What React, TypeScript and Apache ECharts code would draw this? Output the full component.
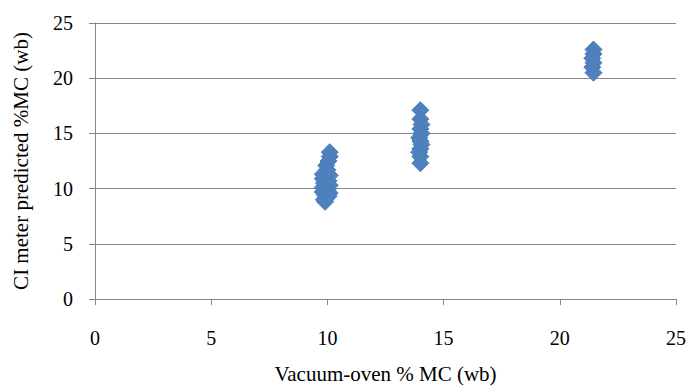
import React, { useEffect, useRef } from "react";
import * as echarts from "echarts";

const xTicks = [0, 5, 10, 15, 20, 25];
const yTicks = [0, 5, 10, 15, 20, 25];

const ovenMC10: number[] = [10.1, 10.1, 10.05, 9.95, 10.0, 9.8, 10.1, 9.8, 10.05, 9.85, 10.1, 9.8, 10.0, 9.8, 10.1, 9.9, 10.05, 9.85, 9.9];
const meterMC10: number[] = [13.3, 12.9, 12.5, 12.1, 11.7, 11.3, 11.2, 10.9, 10.7, 10.5, 10.3, 10.1, 9.9, 9.7, 9.6, 9.4, 9.3, 9.0, 8.8];

const ovenMC14: number[] = [14.0, 14.0, 14.05, 14.0, 14.05, 13.95, 14.0, 14.05, 14.0, 13.95, 14.0, 14.0];
const meterMC14: number[] = [17.1, 16.3, 15.8, 15.4, 15.0, 14.6, 14.3, 14.0, 13.6, 13.3, 12.9, 12.3];

const ovenMC21: number[] = [21.45, 21.45, 21.4, 21.45, 21.4, 21.45];
const meterMC21: number[] = [22.6, 22.2, 21.8, 21.4, 21.0, 20.5];

const xTitle = "Vacuum-oven % MC (wb)";
const yTitle = "CI meter predicted %MC (wb)";

export default function App() {
  const ref = useRef<HTMLDivElement>(null);
  useEffect(() => {
    if (!ref.current) return;
    const chart = echarts.init(ref.current, null, { renderer: "svg" });
    const pts: number[][] = [];
    const add = (xs: number[], ys: number[]) => xs.forEach((x, i) => pts.push([x, ys[i]]));
    add(ovenMC10, meterMC10);
    add(ovenMC14, meterMC14);
    add(ovenMC21, meterMC21);
    const font = "'Liberation Serif', 'Times New Roman', serif";
    const gray = "#868686";
    chart.setOption({
      animation: false,
      backgroundColor: "#ffffff",
      grid: { left: 95, right: 9, top: 23, bottom: 89, containLabel: false },
      xAxis: {
        type: "value",
        min: xTicks[0],
        max: xTicks[xTicks.length - 1],
        interval: 5,
        name: xTitle,
        nameLocation: "middle",
        nameGap: 64,
        nameTextStyle: { fontFamily: font, fontSize: 21, color: "#000" },
        axisLine: { show: true, lineStyle: { color: gray, width: 1 } },
        axisTick: { show: true, length: 6, lineStyle: { color: gray } },
        axisLabel: { fontFamily: font, fontSize: 20, color: "#000", margin: 29 },
        splitLine: { show: false },
      },
      yAxis: {
        type: "value",
        min: yTicks[0],
        max: yTicks[yTicks.length - 1],
        interval: 5,
        name: yTitle,
        nameLocation: "middle",
        nameGap: 64,
        nameRotate: 90,
        nameTextStyle: { fontFamily: font, fontSize: 21, color: "#000" },
        axisLine: { show: true, lineStyle: { color: gray, width: 1 } },
        axisTick: { show: true, length: 6, lineStyle: { color: gray } },
        axisLabel: { fontFamily: font, fontSize: 20, color: "#000", margin: 22 },
        splitLine: { show: true, lineStyle: { color: gray, width: 1 } },
      },
      series: [
        {
          type: "scatter",
          symbol: "diamond",
          symbolSize: 17,
          itemStyle: { color: "#4F81BD", borderColor: "#4A7EBB", borderWidth: 1, opacity: 1 },
          data: pts,
        },
      ],
    });
    return () => chart.dispose();
  }, []);
  return <div ref={ref} style={{ width: 689, height: 389, position: "absolute", left: 0, top: 0 }} />;
}
